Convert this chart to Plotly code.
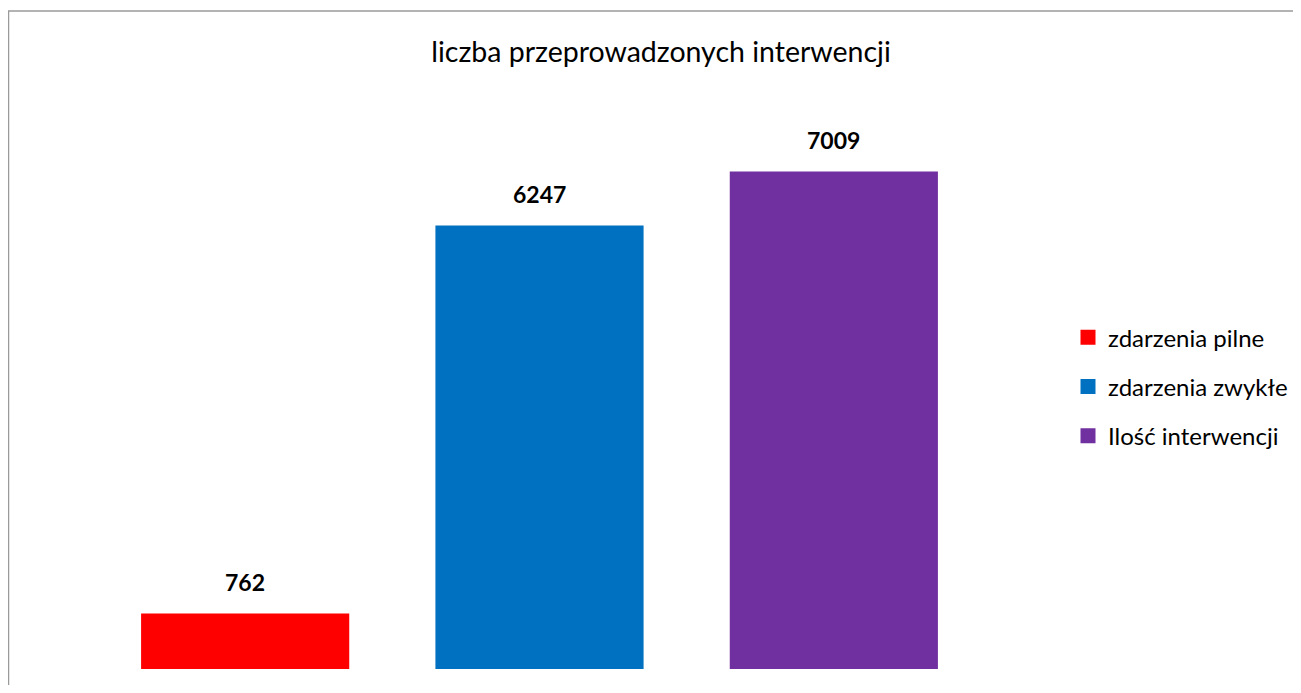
import plotly.graph_objects as go

series_names = ["zdarzenia pilne", "zdarzenia zwykłe", "Ilość interwencji"]
values = [762, 6247, 7009]
positions = [0, 1, 2]
colors = ["#FF0000", "#0070C0", "#7030A0"]
title_text = "liczba przeprowadzonych interwencji"

FONT = "Lato"
OFF = 8  # default page body margin
W, H = 1285, 677
L, R, T, B = 90, 312, 95, 16
PW = W - L - R
PH = H - T - B

fig = go.Figure()
for name, v, p, c in zip(series_names, values, positions, colors):
    fig.add_trace(go.Bar(
        x=[p], y=[v], name=name, marker=dict(color=c, line=dict(width=3, color=c)),
        width=0.697, legendgroup=name,
    ))
    fig.add_annotation(
        x=p, y=v, text=f"<b>{v}</b>", showarrow=False,
        yanchor="bottom", yshift=17, font=dict(family=FONT, size=23, color="black"),
    )

fig.update_layout(
    width=W, height=H,
    margin=dict(l=L, r=R, t=T, b=B, pad=0, autoexpand=False),
    paper_bgcolor="white", plot_bgcolor="white",
    barmode="overlay",
    title=dict(text=title_text, x=(661 - OFF) / W, xref="container", xanchor="center",
               y=1 - (52 - OFF) / H, yref="container", yanchor="middle",
               font=dict(family=FONT, size=28.5, color="black")),
    xaxis=dict(range=[-0.5, 2.5], visible=False, fixedrange=True, automargin=False),
    yaxis=dict(range=[0, 8000], visible=False, fixedrange=True, automargin=False),
    legend=dict(x=(1068 - OFF - L) / PW, xanchor="left", y=0.625, yanchor="top",
                font=dict(family=FONT, size=24, color="black"),
                traceorder="grouped", tracegroupgap=15, itemwidth=30,
                bgcolor="rgba(0,0,0,0)"),
    showlegend=True,
    shapes=[dict(type="rect", xref="paper", yref="paper",
                 x0=(8 - OFF - L) / PW + 0.5 / PW, x1=(W + 10 - L) / PW,
                 y0=-(B + 10) / PH, y1=1 + (T - (11 - OFF)) / PH,
                 line=dict(color="#9a9a9a", width=1.5), fillcolor="rgba(0,0,0,0)",
                 layer="below")],
)

fig.write_html("out.html", config={"displayModeBar": False})
